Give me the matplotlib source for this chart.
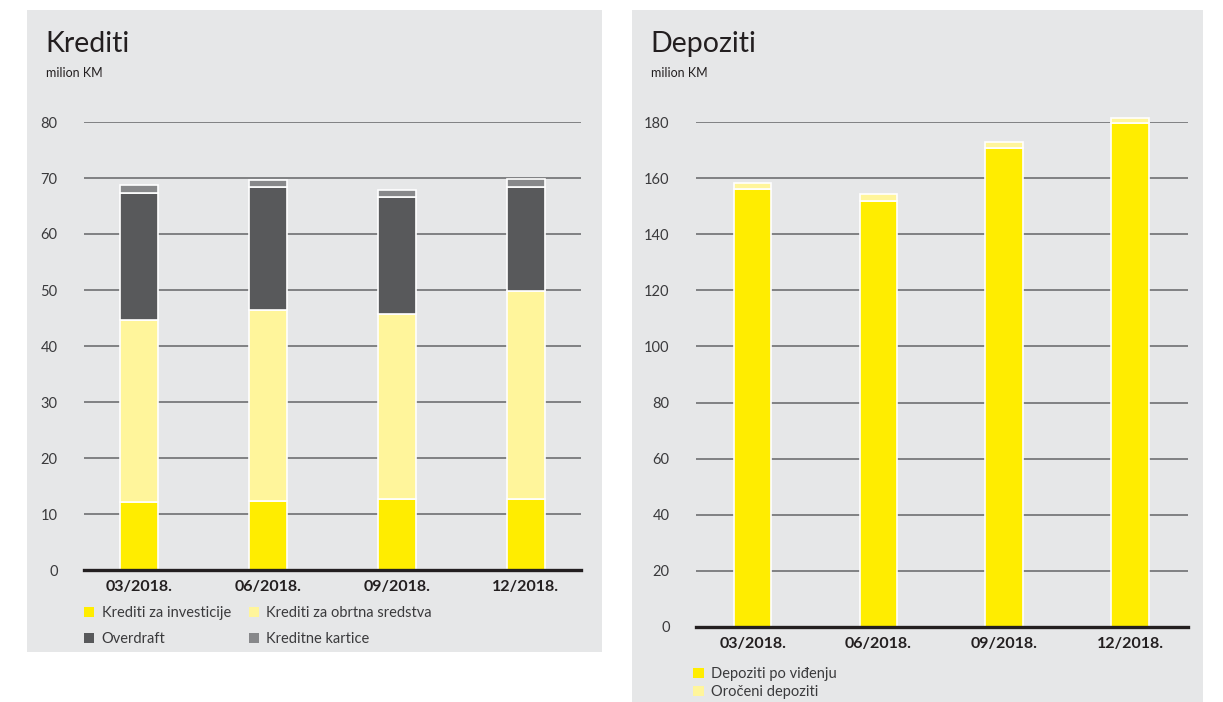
import matplotlib.pyplot as plt
from matplotlib.patches import Rectangle, Patch

plt.rcParams['font.family'] = ['Lato', 'DejaVu Sans']

periods = ['03/2018.', '06/2018.', '09/2018.', '12/2018.']

# Krediti (milion KM)
kred_invest = [12.1, 12.4, 12.7, 12.7]
kred_obrtna = [32.6, 34.0, 33.0, 37.2]
overdraft = [22.6, 22.0, 20.85, 18.55]
kartice = [1.45, 1.2, 1.35, 1.35]
kred_labels = ['Krediti za investicije', 'Krediti za obrtna sredstva',
               'Overdraft', 'Kreditne kartice']

# Depoziti (milion KM)
dep_vidjenje = [156.0, 151.9, 170.8, 179.5]
dep_oroceni = [2.1, 2.3, 1.9, 1.8]
dep_labels = ['Depoziti po viđenju', 'Oročeni depoziti']

YELLOW = '#FFED00'
LIGHT = '#FFF59B'
DARK = '#58595B'
GREY = '#87888A'
BG = '#E6E7E8'
GRID = '#6F7072'
TXT = '#3A3A3C'

W, H = 1223, 702
fig = plt.figure(figsize=(W / 100, H / 100), dpi=100)
fig.patch.set_facecolor('white')


def px(x0, y0, x1, y1):
    # pixel box (from top-left) -> figure fraction [l, b, w, h]
    return [x0 / W, 1 - y1 / H, (x1 - x0) / W, (y1 - y0) / H]


for box in [(27, 10, 602, 652), (632, 10, 1203, 702)]:
    l, b, w, h = px(*box)
    fig.patches.append(Rectangle((l, b), w, h, transform=fig.transFigure,
                                 facecolor=BG, edgecolor='none', zorder=-5))


def style(ax, ymax, step):
    ax.set_zorder(2)
    ax.set_facecolor('none')
    for s in ax.spines.values():
        s.set_visible(False)
    ax.set_ylim(0, ymax)
    ax.set_yticks(range(0, ymax + 1, step))
    ax.yaxis.grid(True, color=GRID, linewidth=1.2)
    ax.set_axisbelow(True)
    ax.axhline(0, color='#231F20', linewidth=2.4, zorder=5, clip_on=False)
    ax.tick_params(axis='y', length=0, pad=19, labelsize=10.5, labelcolor=TXT)
    ax.tick_params(axis='x', length=0, pad=7, labelsize=11.5, labelcolor='#231F20')
    for t in ax.get_xticklabels():
        t.set_fontweight('bold')


# Krediti
ax1 = fig.add_axes(px(84, 122, 581, 570))
x = range(len(periods))
w1 = 0.295
bottom = [0] * len(periods)
handles1 = []
for vals, col, lab in zip([kred_invest, kred_obrtna, overdraft, kartice],
                          [YELLOW, LIGHT, DARK, GREY], kred_labels):
    ax1.bar(x, vals, w1, bottom=bottom, color=col, edgecolor='white',
            linewidth=1.2, zorder=3, clip_on=False)
    bottom = [b + v for b, v in zip(bottom, vals)]
    handles1.append(Patch(facecolor=col, edgecolor='none', label=lab))
ax1.set_xlim(-0.43, 3.43)
ax1.set_xticks(list(x))
ax1.set_xticklabels(periods)
style(ax1, 80, 10)

fig.text(45 / W, 1 - 44 / H, 'Krediti', fontsize=20.5, color='#231F20', va='center')
fig.text(46 / W, 1 - 73 / H, 'milion KM', fontsize=9, color='#231F20', va='center')

# legend fills column-wise, so reorder to get rows: invest/obrtna, overdraft/kartice
order = [0, 2, 1, 3]
fig.legend(handles=[handles1[i] for i in order], ncol=2, loc='upper left',
           bbox_to_anchor=(84 / W, 1 - 606 / H), frameon=False,
           borderpad=0, borderaxespad=0,
           fontsize=10.5, handlelength=0.72, handleheight=0.72,
           handletextpad=0.5, columnspacing=1.2, labelspacing=0.85,
           labelcolor=TXT)

# Depoziti
ax2 = fig.add_axes(px(696, 122, 1188, 627))
w2 = 0.30
ax2.bar(x, dep_vidjenje, w2, color=YELLOW, edgecolor='white', linewidth=1.2,
        zorder=3, clip_on=False)
ax2.bar(x, dep_oroceni, w2, bottom=dep_vidjenje, color=LIGHT, edgecolor='white',
        linewidth=1.2, zorder=3, clip_on=False)
ax2.set_xlim(-0.45, 3.46)
ax2.set_xticks(list(x))
ax2.set_xticklabels(periods)
style(ax2, 180, 20)

fig.text(650 / W, 1 - 44 / H, 'Depoziti', fontsize=20.5, color='#231F20', va='center')
fig.text(651 / W, 1 - 73 / H, 'milion KM', fontsize=9, color='#231F20', va='center')

handles2 = [Patch(facecolor=YELLOW, edgecolor='none', label=dep_labels[0]),
            Patch(facecolor=LIGHT, edgecolor='none', label=dep_labels[1])]
fig.legend(handles=handles2, ncol=1, loc='upper left',
           bbox_to_anchor=(693 / W, 1 - 667 / H), frameon=False,
           borderpad=0, borderaxespad=0,
           fontsize=10.5, handlelength=0.72, handleheight=0.72,
           handletextpad=0.5, labelspacing=0.3, labelcolor=TXT)

fig.savefig('out.png', dpi=100)
